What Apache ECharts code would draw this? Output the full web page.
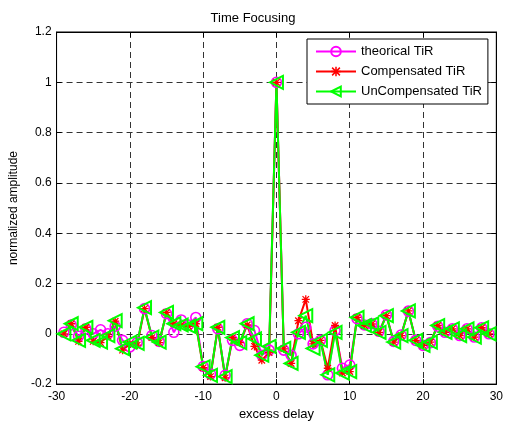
<!DOCTYPE html>
<html>
<head>
<meta charset="utf-8">
<script src="https://cdn.jsdelivr.net/npm/echarts@6/dist/echarts.min.js"></script>
<style>
html,body{margin:0;padding:0;background:#fff;}
#chart{width:506px;height:426px;}
</style>
</head>
<body>
<div id="chart"></div>
<script>
// excess delay samples
var delays = [-29,-28,-27,-26,-25,-24,-23,-22,-21,-20,-19,-18,-17,-16,-15,-14,-13,-12,-11,-10,-9,-8,-7,-6,-5,-4,-3,-2,-1,0,1,2,3,4,5,6,7,8,9,10,11,12,13,14,15,16,17,18,19,20,21,22,23,24,25,26,27,28,29];
var theorical = [0.006,0.035,-0.01,0.02,0.0,0.016,0.0,0.03,-0.026,-0.052,-0.035,0.1,-0.007,-0.03,0.08,0.006,0.055,0.035,0.065,-0.13,-0.16,0.02,-0.165,-0.026,-0.046,0.04,0.013,-0.085,-0.065,1.0,-0.065,-0.085,0.0,0.026,-0.04,-0.026,-0.163,0.013,-0.137,-0.124,0.06,0.035,0.04,0.01,0.075,-0.03,-0.005,0.09,-0.026,-0.046,-0.035,0.03,0.006,0.02,-0.007,0.02,-0.013,0.024,0.0];
var compensated = [0.0,0.04,-0.03,0.026,-0.03,-0.035,-0.01,0.05,-0.065,-0.04,-0.045,0.1,-0.015,-0.035,0.085,0.04,0.035,0.03,0.04,-0.135,-0.17,0.026,-0.175,-0.015,-0.035,0.035,-0.05,-0.105,-0.075,1.0,-0.06,-0.118,0.052,0.137,-0.04,-0.026,-0.137,0.033,-0.156,-0.15,0.065,0.033,0.039,0.006,0.072,-0.033,-0.007,0.091,-0.026,-0.046,-0.033,0.033,0.006,0.02,-0.007,0.02,-0.013,0.024,0.0];
var uncompensated = [0.0,0.04,-0.026,0.026,-0.026,-0.033,-0.007,0.052,-0.059,-0.033,-0.038,0.104,-0.013,-0.033,0.085,0.04,0.035,0.03,0.04,-0.131,-0.165,0.026,-0.17,-0.015,-0.035,0.04,-0.02,-0.085,-0.05,1.0,-0.058,-0.118,0.006,0.072,-0.058,-0.026,-0.163,0.006,-0.156,-0.15,0.065,0.033,0.039,0.006,0.072,-0.033,-0.007,0.091,-0.026,-0.046,-0.033,0.033,0.006,0.02,-0.007,0.02,-0.013,0.024,0.0];
var seriesNames = ['theorical TiR','Compensated TiR','UnCompensated TiR'];
var xTicks = {min:-30, max:30, interval:10};
var yTicks = {min:-0.2, max:1.2, interval:0.2};

function pairs(arr){ return delays.map(function(d,i){ return [d, arr[i]]; }); }

var FONT = 'Liberation Sans, Arial, Helvetica, sans-serif';
var star = 'path://M-5,-0.8L5,-0.8L5,0.8L-5,0.8Z M-0.8,-5L0.8,-5L0.8,5L-0.8,5Z M-3.5,-4.6L4.6,3.5L3.5,4.6L-4.6,-3.5Z M3.5,-4.6L4.6,-3.5L-3.5,4.6L-4.6,3.5Z';

var chart = echarts.init(document.getElementById('chart'), null, {renderer:'canvas'});
var gridLine = {show:true, lineStyle:{color:'#333', type:[6,4], width:1}};
chart.setOption({
  animation:false,
  backgroundColor:'#fff',
  textStyle:{fontFamily:FONT},
  title:{text:'Time Focusing', left:'center', top:7, textStyle:{fontSize:13, fontWeight:'normal', color:'#000', fontFamily:FONT}},
  grid:{left:55, top:32, right:9, bottom:37, show:true, borderColor:'#000', borderWidth:1, containLabel:false},
  legend:{
    data:seriesNames, left:307, top:39, orient:'vertical',
    padding:[6,6,6,8], itemWidth:40, itemHeight:12, itemGap:7,
    borderColor:'#000', borderWidth:1, backgroundColor:'#fff',
    textStyle:{fontSize:13, color:'#000', fontFamily:FONT}
  },
  xAxis:[{
    type:'value', min:xTicks.min, max:xTicks.max, interval:xTicks.interval,
    name:'excess delay', nameLocation:'middle', nameGap:23,
    nameTextStyle:{fontSize:13, color:'#000', fontFamily:FONT},
    axisLine:{show:true, onZero:false, lineStyle:{color:'#000', width:1}},
    axisTick:{show:true, inside:true, length:5, lineStyle:{color:'#000'}},
    axisLabel:{fontSize:12, color:'#000', margin:7, fontFamily:FONT},
    splitLine:gridLine
  },{
    type:'value', position:'top', min:xTicks.min, max:xTicks.max, interval:xTicks.interval,
    axisLine:{show:true, onZero:false, lineStyle:{color:'#000'}},
    axisTick:{show:true, inside:true, length:5, lineStyle:{color:'#000'}},
    axisLabel:{show:false}, splitLine:{show:false}
  }],
  yAxis:[{
    type:'value', min:yTicks.min, max:yTicks.max, interval:yTicks.interval,
    name:'normalized amplitude', nameLocation:'middle', nameGap:35,
    nameTextStyle:{fontSize:12, color:'#000', fontFamily:FONT},
    axisLine:{show:true, onZero:false, lineStyle:{color:'#000', width:1}},
    axisTick:{show:true, inside:true, length:5, lineStyle:{color:'#000'}},
    axisLabel:{fontSize:12, color:'#000', margin:5, fontFamily:FONT,
      formatter:function(v){ return String(Math.round(v*10)/10); }},
    splitLine:gridLine
  },{
    type:'value', position:'right', min:yTicks.min, max:yTicks.max, interval:yTicks.interval,
    axisLine:{show:true, onZero:false, lineStyle:{color:'#000'}},
    axisTick:{show:true, inside:true, length:5, lineStyle:{color:'#000'}},
    axisLabel:{show:false}, splitLine:{show:false}
  }],
  series:[{
    name:seriesNames[0], type:'line', data:pairs(theorical),
    symbol:'circle', symbolSize:10,
    itemStyle:{color:'rgba(255,0,255,0)', borderColor:'#ff00ff', borderWidth:1.6},
    lineStyle:{color:'#ff00ff', width:2}
  },{
    name:seriesNames[1], type:'line', data:pairs(compensated),
    symbol:star, symbolSize:8,
    itemStyle:{color:'#ff0000'},
    lineStyle:{color:'#ff0000', width:2}
  },{
    name:seriesNames[2], type:'line', data:pairs(uncompensated),
    symbol:'triangle', symbolSize:13, symbolRotate:90,
    itemStyle:{color:'rgba(0,255,0,0)', borderColor:'#00ff00', borderWidth:2},
    lineStyle:{color:'#00ff00', width:2}
  }]
});
</script>
</body>
</html>
